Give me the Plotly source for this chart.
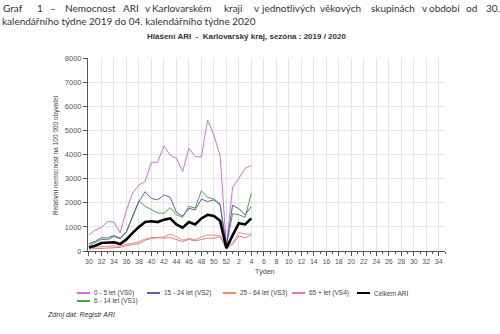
import plotly.graph_objects as go

# ---- data ----
weeks = [30, 31, 32, 33, 34, 35, 36, 37, 38, 39, 40, 41, 42, 43, 44, 45, 46, 47, 48, 49, 50, 51, 52, 1, 2, 3, 4]
axis_weeks = list(range(30, 53)) + list(range(1, 35))
vs0 = [660, 870, 980, 1220, 1200, 750, 1700, 2400, 2740, 2880, 3680, 3680, 4360, 3970, 3850, 3290, 4260, 3910, 3900, 5430, 4810, 3940, 200, 2650, 3010, 3430, 3540]
vs1 = [220, 350, 480, 470, 600, 500, 780, 1450, 2080, 1850, 1720, 1580, 1560, 1800, 1500, 1400, 1850, 1780, 2500, 2230, 2150, 1950, 200, 1550, 1500, 1400, 2400]
vs2 = [300, 400, 550, 540, 640, 530, 800, 1420, 2050, 2460, 2180, 2120, 2320, 2230, 1600, 1450, 1770, 1700, 2150, 2050, 2120, 1910, 200, 1900, 1750, 1500, 1850]
vs3 = [150, 170, 200, 200, 210, 200, 280, 320, 380, 500, 560, 560, 580, 700, 600, 450, 530, 460, 590, 660, 660, 620, 180, 350, 760, 700, 710]
vs4 = [80, 100, 120, 130, 130, 150, 220, 250, 300, 450, 520, 550, 530, 560, 480, 390, 480, 420, 480, 530, 530, 600, 100, 280, 620, 550, 660]
celkem = [150, 220, 330, 350, 360, 290, 480, 750, 1000, 1200, 1230, 1200, 1300, 1350, 1100, 970, 1200, 1100, 1350, 1500, 1450, 1250, 120, 650, 1150, 1100, 1350]

series_names = ["0 - 5 let (VS0)", "6 - 14 let (VS1)", "15 - 24 let (VS2)", "25 - 64 let (VS3)", "65 + let (VS4)", "Celkem ARI"]
series_vals = [vs0, vs1, vs2, vs3, vs4, celkem]
colors = ["#d46fdc", "#45a845", "#5a5fb8", "#e8906c", "#e07a9a", "#000000"]
widths = [1, 1, 1, 1, 1, 2.6]

x_idx = list(range(len(weeks)))

# plot geometry (pixels)
L, T, W, H = 88, 58, 357, 193
def px(x):
    return (x - L) / W
def py(y):
    return (T + H - y) / H

fig = go.Figure()
for name, vals, c, w in zip(series_names, series_vals, colors, widths):
    fig.add_trace(go.Scatter(x=x_idx, y=vals, mode="lines", name=name,
                             line=dict(color=c, width=w), showlegend=False))

tickvals = list(range(0, len(axis_weeks), 2))
ticktext = [str(axis_weeks[i]) for i in tickvals]

fig.update_layout(
    width=500, height=334,
    margin=dict(l=L, r=500 - L - W, t=T, b=334 - T - H),
    paper_bgcolor="white", plot_bgcolor="white",
    xaxis=dict(range=[-0.15, 57], tickvals=tickvals, ticktext=ticktext,
               ticks="outside", ticklen=4, tickcolor="#555", tickwidth=1,
               minor=dict(ticks="outside", ticklen=2, dtick=1, tick0=0, tickcolor="#555", showgrid=False),
               showgrid=True, gridcolor="#e4e4e4", gridwidth=1,
               showline=True, linecolor="#555", linewidth=1, zeroline=False,
               tickfont=dict(family="Liberation Sans, Arial", size=7, color="#555")),
    yaxis=dict(range=[0, 8000], dtick=1000, ticks="outside", ticklen=4, tickcolor="#555",
               showgrid=True, gridcolor="#e4e4e4", gridwidth=1,
               showline=True, linecolor="#555", linewidth=1, zeroline=False,
               tickfont=dict(family="Liberation Sans, Arial", size=7.5, color="#555")),
)

ann = []
# document caption, line 1 (justified words)
words = [("Graf", 1), ("1", 35), ("–", 48), ("Nemocnost", 63), ("ARI", 121), ("v", 143), ("Karlovarském", 150),
         ("kraji", 222), ("v", 252), ("jednotlivých", 259), ("věkových", 318), ("skupinách", 369),
         ("v", 420), ("období", 427), ("od", 464), ("30.", 484)]
for wtxt, wx in words:
    ann.append(dict(text=wtxt, x=px(wx), y=py(8), xref="paper", yref="paper", xanchor="left", yanchor="middle",
                    showarrow=False, font=dict(family="Lato", size=10, color="#333")))
ann.append(dict(text="kalendářního týdne 2019 do 04. kalendářního týdne 2020", x=px(0), y=py(21),
                xref="paper", yref="paper", xanchor="left", yanchor="middle", showarrow=False,
                font=dict(family="Lato", size=10, color="#333")))
# chart title
ann.append(dict(text="<b>Hlášení ARI  -  Karlovarský kraj, sezóna : 2019 / 2020</b>", x=px(246), y=py(36),
                xref="paper", yref="paper", xanchor="center", yanchor="middle", showarrow=False,
                font=dict(family="Liberation Sans, Arial", size=8, color="#333")))
# y axis title
ann.append(dict(text="Relativní nemocnost na 100 000 obyvatel", x=px(56), y=py(155), textangle=-90,
                xref="paper", yref="paper", xanchor="center", yanchor="middle", showarrow=False,
                font=dict(family="Liberation Sans, Arial", size=6.5, color="#444")))
# x axis title
ann.append(dict(text="Týden", x=px(265), y=py(272), xref="paper", yref="paper", xanchor="center", yanchor="middle",
                showarrow=False, font=dict(family="Liberation Sans, Arial", size=7, color="#444")))
# source
ann.append(dict(text="<i>Zdroj dat: Registr ARI</i>", x=px(45), y=py(315), xref="paper", yref="paper",
                xanchor="left", yanchor="middle", showarrow=False,
                font=dict(family="Liberation Sans, Arial", size=7, color="#333")))

# manual legend
legend_pos = {"0 - 5 let (VS0)": (77, 293), "15 - 24 let (VS2)": (147, 293), "25 - 64 let (VS3)": (223, 293),
              "65 + let (VS4)": (292, 293), "Celkem ARI": (357, 293), "6 - 14 let (VS1)": (77, 301)}
shapes = []
for name, c in zip(series_names, colors):
    lx, ly = legend_pos[name]
    shapes.append(dict(type="line", xref="paper", yref="paper", x0=px(lx), x1=px(lx + 13), y0=py(ly), y1=py(ly),
                       line=dict(color=c, width=2)))
    ann.append(dict(text=name, x=px(lx + 15), y=py(ly), xref="paper", yref="paper", xanchor="left",
                    yanchor="middle", showarrow=False,
                    font=dict(family="Liberation Sans, Arial", size=6.5, color="#444")))

fig.update_layout(annotations=ann, shapes=shapes)
fig.write_html("out.html")
